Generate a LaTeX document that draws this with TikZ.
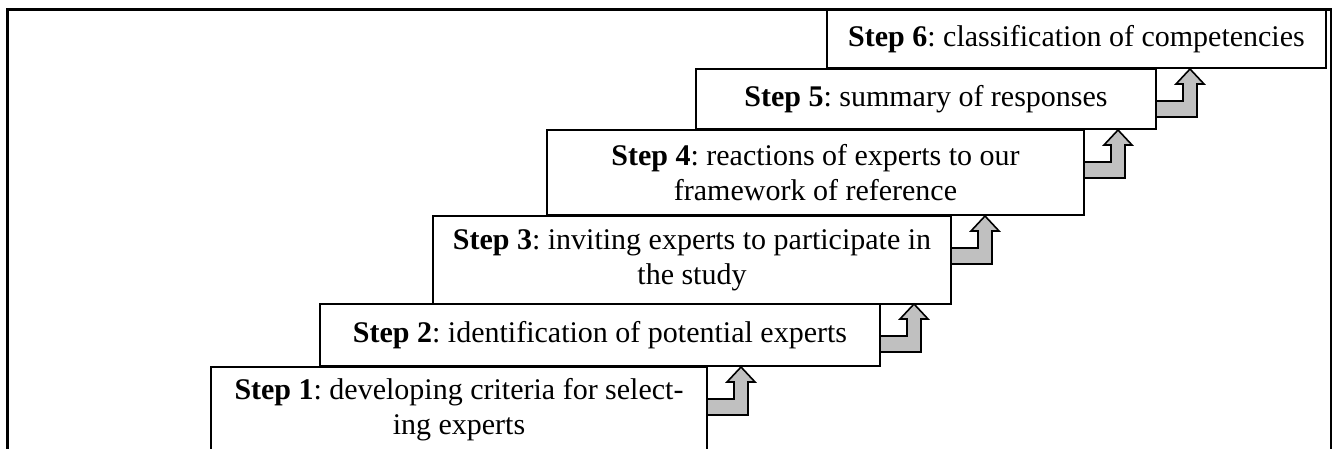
\documentclass[tikz,border=0pt]{standalone}
\usepackage{fontspec}
\setmainfont{Liberation Serif}
\usetikzlibrary{calc}
\definecolor{arrowgray}{RGB}{192,192,192}
\frenchspacing
\tikzset{
  stepbox/.style={draw=black, line width=1pt, fill=white, inner sep=0pt, outer sep=0pt,
    align=center, font=\fontsize{15}{17.5}\selectfont},
  bentarrow/.style={draw=black, line width=0.8pt, fill=arrowgray, line join=miter},
  frame/.style={draw=black, line width=1.5pt}
}
\newcommand\stepup[1]{%
  \draw[bentarrow, shift={(#1.north east)}] (0,32) -- (27,32) -- (27,15) -- (20,15) -- (34,0)
    -- (48,15) -- (41,15) -- (41,48) -- (0,48) -- cycle;}
\begin{document}
\begin{tikzpicture}[x=0.5pt, y=-0.5pt]
\useasboundingbox (0,0) rectangle (1332,449);
\clip (0,0) rectangle (1332,449);
\draw[frame] (7.5,470) -- (7.5,9.5) -- (1331,9.5) -- (1331,470);
\node[stepbox, minimum width=248pt, minimum height=43pt] (s1) at (459,410)
  {\textbf{Step 1}: developing criteria for select-\\ing experts};
\node[stepbox, minimum width=280pt, minimum height=31pt] (s2) at (600,335)
  {\textbf{Step 2}: identification of potential experts};
\node[stepbox, minimum width=259pt, minimum height=44pt] (s3) at (692,260)
  {\textbf{Step 3}: inviting experts to participate in\\the study};
\node[stepbox, minimum width=268.5pt, minimum height=42.5pt] (s4) at (815.5,172.5)
  {\textbf{Step 4}: reactions of experts to our\\framework of reference};
\node[stepbox, minimum width=230pt, minimum height=30pt] (s5) at (926,99)
  {\textbf{Step 5}: summary of responses};
\node[stepbox, minimum width=249.5pt, minimum height=29pt] (s6) at (1076.5,39)
  {\textbf{Step 6}: classification of competencies};
\stepup{s1}
\stepup{s2}
\stepup{s3}
\stepup{s4}
\stepup{s5}
\end{tikzpicture}
\end{document}
